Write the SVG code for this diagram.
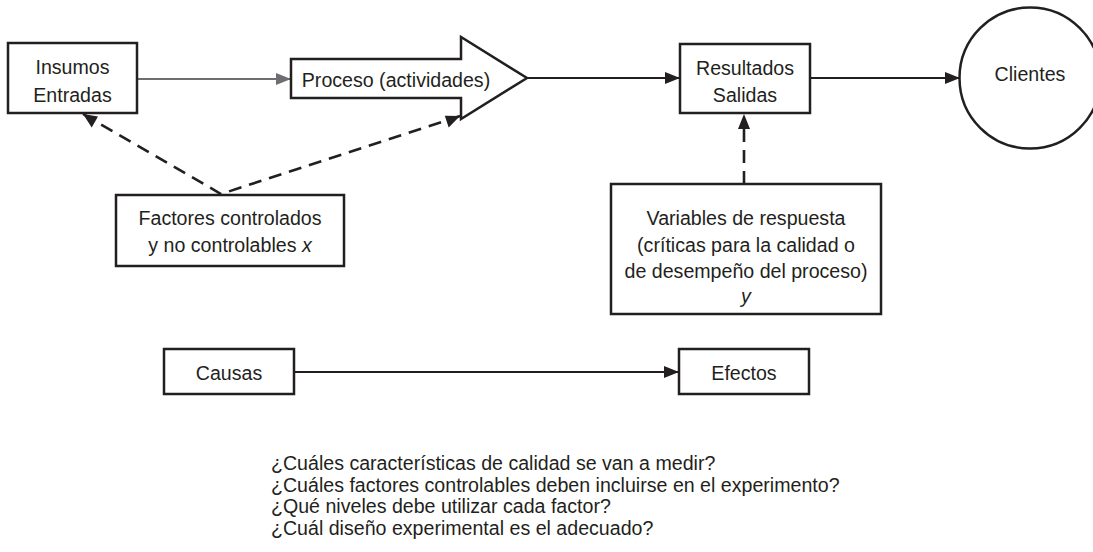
<svg xmlns="http://www.w3.org/2000/svg" width="1093" height="552" viewBox="0 0 1093 552">
<style>
.box{fill:#fff;stroke:#231f20;stroke-width:2.5}
.t{font-family:"Liberation Sans",Arial,sans-serif;font-size:19.6px;fill:#231f20}
.c{text-anchor:middle}
.ln{fill:none;stroke:#231f20;stroke-width:2.2}
.gr{fill:none;stroke:#6d6e71;stroke-width:2.2}
.dash{fill:none;stroke:#231f20;stroke-width:2.6;stroke-dasharray:13 8}
.i{font-style:italic}
</style>
<defs>
<marker id="ah" markerUnits="userSpaceOnUse" markerWidth="16" markerHeight="12" refX="15" refY="6" orient="auto">
<path d="M0,0 L15,6 L0,12 z" fill="#231f20"/>
</marker>
<marker id="ahg" markerUnits="userSpaceOnUse" markerWidth="16" markerHeight="12" refX="15" refY="6" orient="auto">
<path d="M0,0 L15,6 L0,12 z" fill="#6d6e71"/>
</marker>
</defs>
<rect width="1093" height="552" fill="#fff"/>
<g id="connectors">
<line class="gr" x1="137" y1="79" x2="291" y2="79" marker-end="url(#ahg)"/>
<line class="ln" x1="527" y1="78" x2="680" y2="78" marker-end="url(#ah)"/>
<line class="ln" x1="810" y1="78" x2="960" y2="78" marker-end="url(#ah)"/>
<line class="ln" x1="294" y1="372" x2="679" y2="372" marker-end="url(#ah)"/>
<polyline class="dash" points="83,114 221,194 460,116"/>
<path d="M83,114 l15,2.6 l-6.3,10.8 z" fill="#231f20"/>
<path d="M460,116 l-15.2,-0.3 l3.9,11.9 z" fill="#231f20"/>
<line class="dash" x1="744" y1="184" x2="744" y2="128"/>
<path d="M744,114 l-6,15 l12,0 z" fill="#231f20"/>
</g>
<g id="insumos">
<rect class="box" x="8" y="43" width="129" height="70"/>
<text class="t c" x="72.5" y="74">Insumos</text>
<text class="t c" x="72.5" y="102">Entradas</text>
</g>
<g id="proceso">
<polygon class="box" points="291,59 461,59 461,37 527,78 461,119 461,98 291,98"/>
<text class="t c" x="396" y="86.5">Proceso (actividades)</text>
</g>
<g id="resultados">
<rect class="box" x="680" y="44" width="130" height="69"/>
<text class="t c" x="745" y="75">Resultados</text>
<text class="t c" x="745" y="102">Salidas</text>
</g>
<g id="clientes">
<circle class="box" cx="1030" cy="78" r="70.5"/>
<text class="t c" x="1030" y="81">Clientes</text>
</g>
<g id="factores">
<rect class="box" x="116" y="195" width="228" height="71"/>
<text class="t c" x="230" y="225">Factores controlados</text>
<text class="t c" x="230" y="252">y no controlables <tspan class="i">x</tspan></text>
</g>
<g id="variables">
<rect class="box" x="611" y="184" width="270" height="130"/>
<text class="t c" x="746" y="225">Variables de respuesta</text>
<text class="t c" x="746" y="251.5">(críticas para la calidad o</text>
<text class="t c" x="746" y="278">de desempeño del proceso)</text>
<text class="t c i" x="746" y="303">y</text>
</g>
<g id="causas">
<rect class="box" x="164" y="349" width="130" height="45"/>
<text class="t c" x="229" y="380">Causas</text>
</g>
<g id="efectos">
<rect class="box" x="679" y="349" width="130" height="45"/>
<text class="t c" x="744" y="380">Efectos</text>
</g>
<g id="preguntas">
<text class="t" x="271" y="470">¿Cuáles características de calidad se van a medir?</text>
<text class="t" x="271" y="491.5">¿Cuáles factores controlables deben incluirse en el experimento?</text>
<text class="t" x="271" y="513">¿Qué niveles debe utilizar cada factor?</text>
<text class="t" x="271" y="534.5">¿Cuál diseño experimental es el adecuado?</text>
</g>
</svg>
